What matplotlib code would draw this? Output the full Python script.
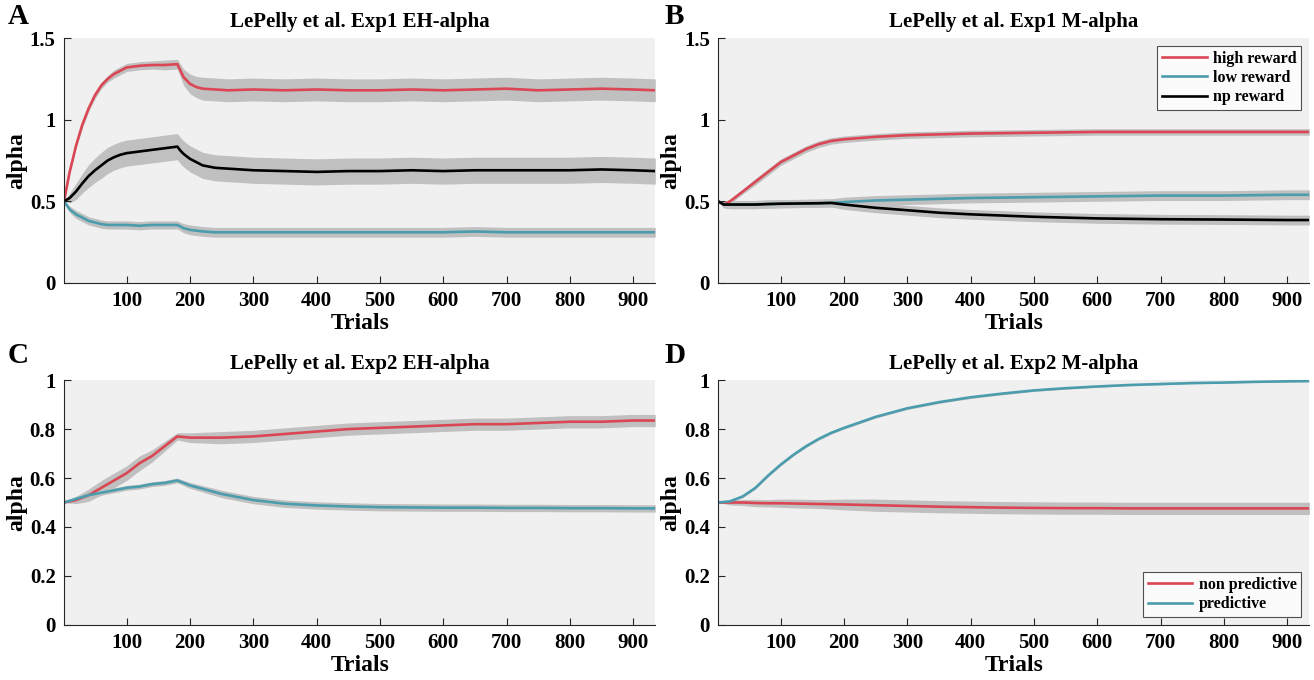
import matplotlib.pyplot as plt
from matplotlib.ticker import FixedLocator

plt.rcParams["font.family"] = ["Liberation Serif", "DejaVu Serif"]
plt.rcParams["font.weight"] = "bold"

# ---- Panel A: Exp1 EH-alpha ----
a_x = [1, 10, 20, 30, 40, 50, 60, 70, 80, 90, 100, 120, 140, 160, 180, 185, 190, 200, 210, 220,
       240, 260, 300, 350, 400, 450, 500, 550, 600, 650, 700, 750, 800, 850, 900, 935]
a_high = [0.5, 0.68, 0.84, 0.97, 1.07, 1.15, 1.21, 1.25, 1.28, 1.30, 1.32, 1.33, 1.335, 1.335, 1.34,
          1.30, 1.26, 1.22, 1.20, 1.19, 1.185, 1.18, 1.185, 1.18, 1.185, 1.18, 1.18, 1.185, 1.18,
          1.185, 1.19, 1.18, 1.185, 1.19, 1.185, 1.18]
a_high_sd = [0.0, 0.01, 0.015, 0.02, 0.02, 0.02, 0.02, 0.02, 0.025, 0.025, 0.025, 0.025, 0.025, 0.03,
             0.03, 0.04, 0.05, 0.06, 0.065, 0.07, 0.07, 0.07, 0.07, 0.07, 0.07, 0.07, 0.07, 0.07,
             0.07, 0.07, 0.07, 0.07, 0.07, 0.07, 0.07, 0.07]
a_np = [0.5, 0.52, 0.56, 0.61, 0.655, 0.69, 0.72, 0.75, 0.77, 0.785, 0.795, 0.805, 0.815, 0.825, 0.835,
        0.81, 0.79, 0.76, 0.74, 0.72, 0.705, 0.70, 0.69, 0.685, 0.68, 0.685, 0.685, 0.69, 0.685,
        0.69, 0.69, 0.69, 0.69, 0.695, 0.69, 0.685]
a_np_sd = [0.0, 0.03, 0.05, 0.06, 0.07, 0.075, 0.08, 0.08, 0.08, 0.08, 0.08, 0.08, 0.08, 0.08, 0.08,
           0.08, 0.08, 0.08, 0.08, 0.08, 0.08, 0.08, 0.08, 0.08, 0.08, 0.08, 0.08, 0.08, 0.08,
           0.08, 0.08, 0.08, 0.08, 0.08, 0.08, 0.08]
a_low = [0.5, 0.45, 0.42, 0.40, 0.38, 0.37, 0.36, 0.355, 0.355, 0.355, 0.355, 0.35, 0.355, 0.355,
         0.355, 0.345, 0.335, 0.325, 0.32, 0.315, 0.31, 0.31, 0.31, 0.31, 0.31, 0.31, 0.31, 0.31,
         0.31, 0.315, 0.31, 0.31, 0.31, 0.31, 0.31, 0.31]
a_low_sd = [0.0, 0.02, 0.025, 0.025, 0.025, 0.025, 0.025, 0.025, 0.025, 0.025, 0.025, 0.025, 0.025,
            0.025, 0.025, 0.025, 0.028, 0.03, 0.03, 0.03, 0.03, 0.03, 0.03, 0.03, 0.03, 0.03, 0.03,
            0.03, 0.03, 0.03, 0.03, 0.03, 0.03, 0.03, 0.03, 0.03]

# ---- Panel B: Exp1 M-alpha ----
b_x = [1, 10, 20, 30, 40, 60, 80, 100, 120, 140, 160, 180, 200, 250, 300, 350, 400, 500, 600, 700,
       800, 900, 935]
b_high = [0.5, 0.48, 0.50, 0.53, 0.56, 0.62, 0.68, 0.74, 0.78, 0.82, 0.85, 0.87, 0.88, 0.895, 0.905,
          0.91, 0.915, 0.92, 0.925, 0.925, 0.925, 0.925, 0.925]
b_high_sd = [0.0, 0.015, 0.015, 0.015, 0.015, 0.02, 0.02, 0.02, 0.02, 0.02, 0.02, 0.02, 0.02, 0.02,
             0.02, 0.02, 0.02, 0.02, 0.02, 0.02, 0.02, 0.02, 0.02]
b_low = [0.5, 0.48, 0.48, 0.48, 0.48, 0.48, 0.483, 0.485, 0.486, 0.487, 0.488, 0.49, 0.495, 0.505,
         0.51, 0.515, 0.52, 0.525, 0.53, 0.535, 0.535, 0.54, 0.54]
b_low_sd = [0.0, 0.02, 0.025, 0.025, 0.025, 0.025, 0.025, 0.025, 0.025, 0.025, 0.025, 0.025, 0.03,
            0.03, 0.03, 0.03, 0.03, 0.03, 0.03, 0.03, 0.03, 0.03, 0.03]
b_np = [0.5, 0.48, 0.48, 0.48, 0.48, 0.48, 0.483, 0.485, 0.486, 0.487, 0.488, 0.49, 0.48, 0.46,
        0.445, 0.43, 0.42, 0.405, 0.395, 0.39, 0.388, 0.385, 0.385]
b_np_sd = [0.0, 0.02, 0.025, 0.025, 0.025, 0.025, 0.025, 0.025, 0.025, 0.025, 0.025, 0.025, 0.03,
           0.03, 0.03, 0.03, 0.03, 0.03, 0.03, 0.03, 0.03, 0.03, 0.03]

# ---- Panel C: Exp2 EH-alpha ----
c_x = [1, 20, 40, 60, 80, 100, 120, 140, 160, 180, 200, 250, 300, 350, 400, 450, 500, 550, 600, 650,
       700, 750, 800, 850, 900, 935]
c_high = [0.5, 0.51, 0.53, 0.56, 0.59, 0.62, 0.66, 0.69, 0.73, 0.77, 0.765, 0.765, 0.77, 0.78, 0.79,
          0.80, 0.805, 0.81, 0.815, 0.82, 0.82, 0.825, 0.83, 0.83, 0.835, 0.835]
c_high_sd = [0.0, 0.015, 0.025, 0.03, 0.03, 0.03, 0.03, 0.025, 0.02, 0.015, 0.02, 0.025, 0.025, 0.025,
             0.025, 0.025, 0.025, 0.025, 0.025, 0.025, 0.025, 0.025, 0.025, 0.025, 0.025, 0.025]
c_low = [0.5, 0.515, 0.53, 0.54, 0.55, 0.56, 0.565, 0.575, 0.58, 0.59, 0.57, 0.535, 0.51, 0.495, 0.488,
         0.484, 0.481, 0.48, 0.479, 0.479, 0.478, 0.478, 0.477, 0.477, 0.476, 0.476]
c_low_sd = [0.0, 0.01, 0.01, 0.01, 0.01, 0.01, 0.01, 0.01, 0.01, 0.01, 0.012, 0.015, 0.015, 0.015,
            0.015, 0.015, 0.015, 0.015, 0.015, 0.015, 0.015, 0.015, 0.015, 0.015, 0.015, 0.015]

# ---- Panel D: Exp2 M-alpha ----
d_x = [1, 20, 40, 60, 80, 100, 120, 140, 160, 180, 200, 250, 300, 350, 400, 450, 500, 550, 600, 650,
       700, 750, 800, 850, 900, 935]
d_pred = [0.5, 0.505, 0.525, 0.56, 0.61, 0.655, 0.695, 0.73, 0.76, 0.785, 0.805, 0.85, 0.885, 0.91, 0.93,
          0.945, 0.958, 0.967, 0.974, 0.98, 0.984, 0.988, 0.99, 0.993, 0.995, 0.996]
d_pred_sd = [0.0, 0.004, 0.005, 0.005, 0.005, 0.005, 0.005, 0.005, 0.005, 0.005, 0.005, 0.005, 0.005,
             0.005, 0.005, 0.005, 0.004, 0.004, 0.003, 0.003, 0.003, 0.003, 0.002, 0.002, 0.002, 0.002]
d_non = [0.5, 0.5, 0.5, 0.498, 0.497, 0.497, 0.496, 0.495, 0.494, 0.493, 0.492, 0.489, 0.486, 0.483,
         0.481, 0.479, 0.478, 0.477, 0.477, 0.476, 0.476, 0.476, 0.476, 0.476, 0.476, 0.476]
d_non_sd = [0.0, 0.01, 0.012, 0.015, 0.015, 0.017, 0.018, 0.018, 0.018, 0.02, 0.022, 0.025, 0.025,
            0.025, 0.025, 0.025, 0.025, 0.025, 0.025, 0.025, 0.025, 0.025, 0.025, 0.025, 0.025, 0.025]

RED = "#DA4653"
BLUE = "#4B9DAE"
BLACK = "#000000"
BAND = "#C0C0C0"

x_ticks = [100, 200, 300, 400, 500, 600, 700, 800, 900]


def draw_series(ax, x, y, sd, color, label):
    lo = [m - s for m, s in zip(y, sd)]
    hi = [m + s for m, s in zip(y, sd)]
    ax.fill_between(x, lo, hi, color=BAND, linewidth=0)
    ax.plot(x, y, color=color, linewidth=1.9, label=label)


def style_axes(ax, title):
    ax.set_facecolor("#F0F0F0")
    ax.set_xlim(1, 935)
    ax.xaxis.set_major_locator(FixedLocator(x_ticks))
    ax.tick_params(direction="in", length=5, width=0.8, labelsize=15, pad=6, colors="#262626")
    for lab in ax.get_xticklabels() + ax.get_yticklabels():
        lab.set_fontweight("bold")
        lab.set_color("black")
    ax.spines["top"].set_visible(False)
    ax.spines["right"].set_visible(False)
    ax.spines["left"].set_color("#262626")
    ax.spines["bottom"].set_color("#262626")
    ax.set_xlabel("Trials", fontsize=17, fontweight="bold", labelpad=1)
    ax.set_ylabel("alpha", fontsize=17, fontweight="bold", labelpad=2)
    ax.set_title(title, fontsize=15, fontweight="bold", pad=8)


fig = plt.figure(figsize=(13.14, 6.8), dpi=100)
axA = fig.add_axes([0.0487, 0.584, 0.450, 0.360])
axB = fig.add_axes([0.5465, 0.584, 0.450, 0.360])
axC = fig.add_axes([0.0487, 0.081, 0.450, 0.360])
axD = fig.add_axes([0.5465, 0.081, 0.450, 0.360])

yt1 = [0, 0.5, 1, 1.5]
yl1 = ["0", "0.5", "1", "1.5"]
yt2 = [0, 0.2, 0.4, 0.6, 0.8, 1]
yl2 = ["0", "0.2", "0.4", "0.6", "0.8", "1"]

draw_series(axA, a_x, a_high, a_high_sd, RED, "high reward")
draw_series(axA, a_x, a_low, a_low_sd, BLUE, "low reward")
draw_series(axA, a_x, a_np, a_np_sd, BLACK, "np reward")
axA.set_ylim(0, 1.5)
axA.set_yticks(yt1, yl1)
style_axes(axA, "LePelly et al. Exp1 EH-alpha")

draw_series(axB, b_x, b_high, b_high_sd, RED, "high reward")
draw_series(axB, b_x, b_low, b_low_sd, BLUE, "low reward")
draw_series(axB, b_x, b_np, b_np_sd, BLACK, "np reward")
axB.set_ylim(0, 1.5)
axB.set_yticks(yt1, yl1)
style_axes(axB, "LePelly et al. Exp1 M-alpha")

draw_series(axC, c_x, c_high, c_high_sd, RED, "high")
draw_series(axC, c_x, c_low, c_low_sd, BLUE, "low")
axC.set_ylim(0, 1)
axC.set_yticks(yt2, yl2)
style_axes(axC, "LePelly et al. Exp2 EH-alpha")

draw_series(axD, d_x, d_non, d_non_sd, RED, "non predictive")
draw_series(axD, d_x, d_pred, d_pred_sd, BLUE, "predictive")
axD.set_ylim(0, 1)
axD.set_yticks(yt2, yl2)
style_axes(axD, "LePelly et al. Exp2 M-alpha")

# Panel letters
for letter, (fx, fy) in zip("ABCD", [(0.006, 0.995), (0.506, 0.995), (0.006, 0.497), (0.506, 0.497)]):
    fig.text(fx, fy, letter, fontsize=21, fontweight="bold", va="top", ha="left")

legB = axB.legend(loc="upper right", frameon=True, fancybox=False,
                  edgecolor="#262626", handlelength=2.8, handletextpad=0.4,
                  borderpad=0.3, labelspacing=0.2, prop={"weight": "bold", "size": 11.5})
legB.get_frame().set_linewidth(0.8)
legD = axD.legend(loc="lower right", frameon=True, fancybox=False,
                  edgecolor="#262626", handlelength=2.8, handletextpad=0.4,
                  borderpad=0.3, labelspacing=0.2, prop={"weight": "bold", "size": 11.5})
legD.get_frame().set_linewidth(0.8)

fig.savefig("out.png", dpi=100, facecolor="white")
